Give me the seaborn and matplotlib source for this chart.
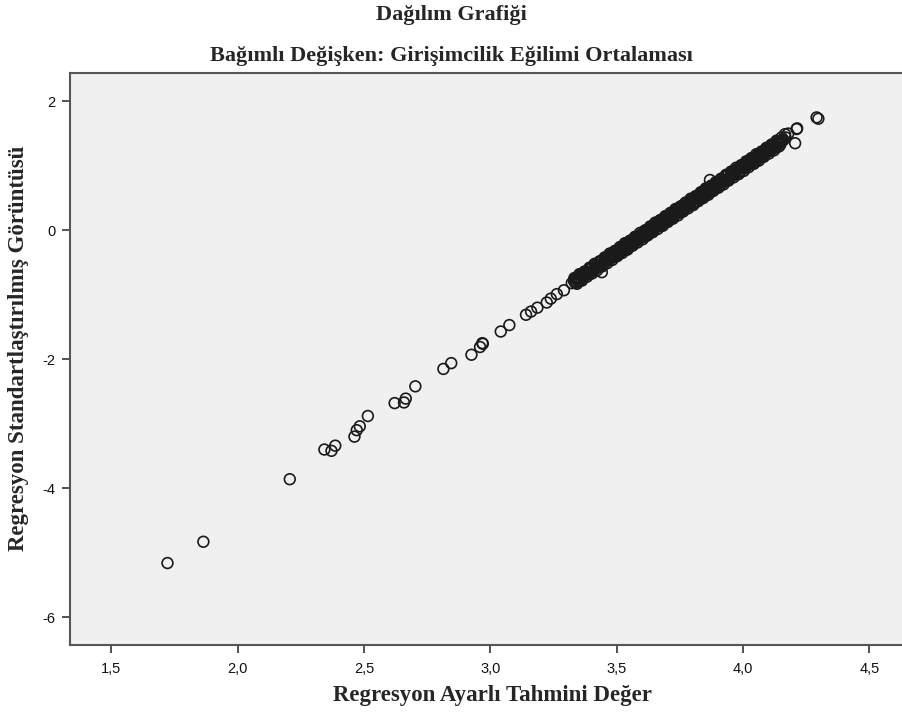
import numpy as np
import pandas as pd
import matplotlib
matplotlib.use("Agg")
import matplotlib.pyplot as plt
import seaborn as sns

# sparse lower tail of the scatter
tail_x = [1.722, 1.864, 2.206, 2.343, 2.371, 2.386, 2.462, 2.471, 2.483, 2.515,
          2.621, 2.658, 2.665, 2.703, 2.814, 2.845, 2.925, 2.959, 2.968, 2.970,
          3.041, 3.075, 3.141, 3.161, 3.186, 3.223, 3.239, 3.263, 3.291, 3.322,
          3.441, 3.869]
tail_y = [-5.16, -4.83, -3.86, -3.40, -3.42, -3.34, -3.20, -3.10, -3.04, -2.88,
          -2.68, -2.67, -2.61, -2.42, -2.15, -2.06, -1.93, -1.81, -1.75, -1.76,
          -1.57, -1.47, -1.31, -1.26, -1.20, -1.12, -1.06, -0.99, -0.93, -0.82,
          -0.65, 0.78]

# dense band, centre
band_a_x = [3.33, 3.34, 3.35, 3.36, 3.37, 3.38, 3.39, 3.40, 3.41, 3.42,
            3.43, 3.44, 3.45, 3.46, 3.47, 3.48, 3.49, 3.50, 3.51, 3.52,
            3.53, 3.54, 3.55, 3.56, 3.57, 3.58, 3.59, 3.60, 3.61, 3.62,
            3.63, 3.64, 3.65, 3.66, 3.67, 3.68, 3.69, 3.70, 3.71, 3.72,
            3.73, 3.74, 3.75, 3.76, 3.77, 3.78, 3.79, 3.80, 3.81, 3.82,
            3.83, 3.84, 3.85, 3.86, 3.87, 3.88, 3.89, 3.90, 3.91, 3.92,
            3.93, 3.94, 3.95, 3.96, 3.97, 3.98, 3.99, 4.00, 4.01, 4.02,
            4.03, 4.04, 4.05, 4.06, 4.07, 4.08, 4.09, 4.10, 4.11, 4.12,
            4.13, 4.14, 4.15, 4.16]
band_a_y = [-0.78, -0.81, -0.74, -0.68, -0.72, -0.67, -0.68, -0.59, -0.60, -0.54,
            -0.56, -0.48, -0.49, -0.42, -0.46, -0.39, -0.40, -0.32, -0.36, -0.28,
            -0.28, -0.20, -0.24, -0.19, -0.19, -0.12, -0.12, -0.06, -0.10, -0.02,
            0.02, -0.01, 0.09, 0.06, 0.12, 0.11, 0.18, 0.14, 0.22, 0.21,
            0.29, 0.28, 0.33, 0.31, 0.41, 0.37, 0.43, 0.41, 0.50, 0.49,
            0.55, 0.52, 0.58, 0.65, 0.61, 0.69, 0.68, 0.73, 0.70, 0.78,
            0.77, 0.85, 0.84, 0.91, 0.87, 0.95, 0.93, 0.99, 0.98, 1.06,
            1.05, 1.10, 1.07, 1.15, 1.14, 1.22, 1.21, 1.26, 1.24, 1.31,
            1.30, 1.37, 1.37, 1.40]

band_b_x = [3.335, 3.345, 3.355, 3.365, 3.375, 3.385, 3.395, 3.405, 3.415, 3.425,
            3.435, 3.445, 3.455, 3.465, 3.475, 3.485, 3.495, 3.505, 3.515, 3.525,
            3.535, 3.545, 3.555, 3.565, 3.575, 3.585, 3.595, 3.605, 3.615, 3.625,
            3.635, 3.645, 3.655, 3.665, 3.675, 3.685, 3.695, 3.705, 3.715, 3.725,
            3.735, 3.745, 3.755, 3.765, 3.775, 3.785, 3.795, 3.805, 3.815, 3.825,
            3.835, 3.845, 3.855, 3.865, 3.875, 3.885, 3.895, 3.905, 3.915, 3.925,
            3.935, 3.945, 3.955, 3.965, 3.975, 3.985, 3.995, 4.005, 4.015, 4.025,
            4.035, 4.045, 4.055, 4.065, 4.075, 4.085, 4.095, 4.105, 4.115, 4.125,
            4.135, 4.145, 4.155]
band_b_y = [-0.81, -0.73, -0.78, -0.70, -0.66, -0.67, -0.59, -0.63, -0.58, -0.57,
            -0.49, -0.54, -0.46, -0.42, -0.43, -0.35, -0.39, -0.34, -0.33, -0.25,
            -0.30, -0.22, -0.18, -0.19, -0.11, -0.15, -0.10, -0.09, -0.02, -0.06,
            0.02, 0.05, 0.05, 0.13, 0.08, 0.14, 0.15, 0.22, 0.18, 0.26,
            0.29, 0.29, 0.37, 0.32, 0.38, 0.39, 0.46, 0.42, 0.50, 0.53,
            0.53, 0.61, 0.56, 0.62, 0.63, 0.70, 0.66, 0.74, 0.77, 0.77,
            0.85, 0.80, 0.86, 0.87, 0.94, 0.90, 0.98, 1.01, 1.01, 1.08,
            1.04, 1.10, 1.10, 1.18, 1.14, 1.21, 1.25, 1.25, 1.31, 1.29,
            1.35, 1.35, 1.39]

# dense band, upper edge
band_c_x = [3.3325, 3.3525, 3.3725, 3.3925, 3.4125, 3.4325, 3.4525, 3.4725, 3.4925, 3.5125,
            3.5325, 3.5525, 3.5725, 3.5925, 3.6125, 3.6325, 3.6525, 3.6725, 3.6925, 3.7125,
            3.7325, 3.7525, 3.7725, 3.7925, 3.8125, 3.8325, 3.8525, 3.8725, 3.8925, 3.9125,
            3.9325, 3.9525, 3.9725, 3.9925, 4.0125, 4.0325, 4.0525, 4.0725, 4.0925, 4.1125,
            4.1325, 4.1525]
band_c_y = [-0.74, -0.68, -0.64, -0.58, -0.52, -0.48, -0.42, -0.36, -0.32, -0.26,
            -0.20, -0.16, -0.10, -0.04, 0.00, 0.06, 0.12, 0.16, 0.22, 0.27,
            0.33, 0.37, 0.43, 0.49, 0.53, 0.59, 0.65, 0.69, 0.75, 0.80,
            0.86, 0.91, 0.97, 1.01, 1.07, 1.12, 1.18, 1.22, 1.28, 1.33,
            1.39, 1.44]

# dense band, lower edge
band_d_x = [3.3425, 3.3625, 3.3825, 3.4025, 3.4225, 3.4425, 3.4625, 3.4825, 3.5025, 3.5225,
            3.5425, 3.5625, 3.5825, 3.6025, 3.6225, 3.6425, 3.6625, 3.6825, 3.7025, 3.7225,
            3.7425, 3.7625, 3.7825, 3.8025, 3.8225, 3.8425, 3.8625, 3.8825, 3.9025, 3.9225,
            3.9425, 3.9625, 3.9825, 4.0025, 4.0225, 4.0425, 4.0625, 4.0825, 4.1025, 4.1225,
            4.1425]
band_d_y = [-0.83, -0.78, -0.72, -0.67, -0.62, -0.56, -0.51, -0.46, -0.40, -0.35,
            -0.30, -0.24, -0.19, -0.14, -0.08, -0.03, 0.02, 0.07, 0.13, 0.18,
            0.23, 0.29, 0.34, 0.39, 0.45, 0.50, 0.55, 0.61, 0.66, 0.71,
            0.77, 0.82, 0.87, 0.92, 0.98, 1.03, 1.08, 1.14, 1.19, 1.24,
            1.30]

# dense band, between centre and edges
band_e_x = [3.3375, 3.3575, 3.3775, 3.3975, 3.4175, 3.4375, 3.4575, 3.4775, 3.4975, 3.5175,
            3.5375, 3.5575, 3.5775, 3.5975, 3.6175, 3.6375, 3.6575, 3.6775, 3.6975, 3.7175,
            3.7375, 3.7575, 3.7775, 3.7975, 3.8175, 3.8375, 3.8575, 3.8775, 3.8975, 3.9175,
            3.9375, 3.9575, 3.9775, 3.9975, 4.0175, 4.0375, 4.0575, 4.0775, 4.0975, 4.1175,
            4.1375]
band_e_y = [-0.75, -0.69, -0.64, -0.59, -0.53, -0.48, -0.43, -0.37, -0.32, -0.27,
            -0.22, -0.16, -0.11, -0.06, 0.00, 0.05, 0.10, 0.16, 0.21, 0.26,
            0.32, 0.37, 0.42, 0.48, 0.53, 0.58, 0.63, 0.69, 0.74, 0.79,
            0.85, 0.90, 0.95, 1.01, 1.06, 1.11, 1.17, 1.22, 1.27, 1.33,
            1.38]

band_f_x = [3.3475, 3.3675, 3.3875, 3.4075, 3.4275, 3.4475, 3.4675, 3.4875, 3.5075, 3.5275,
            3.5475, 3.5675, 3.5875, 3.6075, 3.6275, 3.6475, 3.6675, 3.6875, 3.7075, 3.7275,
            3.7475, 3.7675, 3.7875, 3.8075, 3.8275, 3.8475, 3.8675, 3.8875, 3.9075, 3.9275,
            3.9475, 3.9675, 3.9875, 4.0075, 4.0275, 4.0475, 4.0675, 4.0875, 4.1075, 4.1275,
            4.1475]
band_f_y = [-0.79, -0.74, -0.68, -0.63, -0.58, -0.53, -0.47, -0.42, -0.37, -0.31,
            -0.26, -0.21, -0.15, -0.10, -0.05, 0.01, 0.06, 0.11, 0.17, 0.22,
            0.27, 0.33, 0.38, 0.43, 0.48, 0.54, 0.59, 0.64, 0.70, 0.75,
            0.80, 0.86, 0.91, 0.96, 1.02, 1.07, 1.12, 1.18, 1.23, 1.28,
            1.33]

# upper end of the scatter
top_x = [4.166, 4.168, 4.179, 4.206, 4.212, 4.214, 4.291, 4.298]
top_y = [1.49, 1.44, 1.50, 1.35, 1.57, 1.58, 1.75, 1.73]

xticks = [1.5, 2.0, 2.5, 3.0, 3.5, 4.0, 4.5]
xtick_labels = ["1,5", "2,0", "2,5", "3,0", "3,5", "4,0", "4,5"]
yticks = [2, 0, -2, -4, -6]

df = pd.DataFrame({
    "pred": tail_x + band_a_x + band_b_x + band_c_x + band_d_x + band_e_x
            + band_f_x + top_x,
    "resid": tail_y + band_a_y + band_b_y + band_c_y + band_d_y + band_e_y
             + band_f_y + top_y,
})

sns.set_style("white")
plt.rcParams["font.family"] = ["Liberation Sans", "DejaVu Sans"]

fig = plt.figure(figsize=(9.03, 7.15), dpi=100)
ax = fig.add_axes([0.0772, 0.098, 0.9228, 0.800])
ax.set_facecolor("#f0f0f0")

sns.scatterplot(data=df, x="pred", y="resid", ax=ax, marker="o", s=60,
                facecolors="none", edgecolor="#1a1a1a", linewidth=1.2)

ax.set_xlim(1.335, 4.633)
ax.set_ylim(-6.43, 2.44)
ax.set_xticks(xticks)
ax.set_xticklabels(xtick_labels)
ax.set_yticks(yticks)
ax.set_yticklabels([str(v) for v in yticks])
ax.tick_params(axis="both", direction="out", length=6, width=1.3,
               color="#444444", labelsize=10.5, labelcolor="#111111", pad=4)
ax.tick_params(axis="x", pad=6)
ax.tick_params(axis="y", left=True)
ax.tick_params(axis="x", bottom=True)
for side in ["left", "bottom", "top"]:
    ax.spines[side].set_color("#555555")
    ax.spines[side].set_linewidth(1.5)
ax.spines["right"].set_visible(False)
ax.set_xlabel("")
ax.set_ylabel("")

serif = ["Liberation Serif", "DejaVu Serif"]
fig.text(0.5, 1 - 15 / 715, "Dağılım Grafiği", ha="center", va="center",
         fontsize=16, fontweight="bold", family=serif)
fig.text(0.5, 1 - 56 / 715, "Bağımlı Değişken: Girişimcilik Eğilimi Ortalaması",
         ha="center", va="center", fontsize=16, fontweight="bold", family=serif)
fig.text(492 / 903, 1 - 696 / 715, "Regresyon Ayarlı Tahmini Değer",
         ha="center", va="center", fontsize=16.5, fontweight="bold", family=serif)
fig.text(19 / 903, 1 - 348 / 715, "Regresyon Standartlaştırılmış Görüntüsü",
         ha="center", va="center", rotation=90, fontsize=16.5,
         fontweight="bold", family=serif)

fig.savefig("out.png", dpi=100, facecolor="white")
